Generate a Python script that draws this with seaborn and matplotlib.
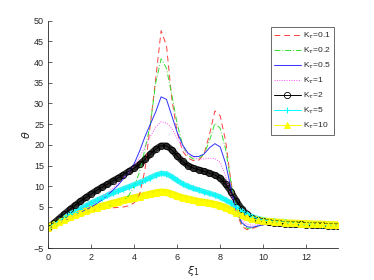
import numpy as np
import pandas as pd
import matplotlib
matplotlib.use('Agg')
import matplotlib.pyplot as plt
import seaborn as sns

# x grid (step 0.25)
xi = [0, .25, .5, .75, 1, 1.25, 1.5, 1.75, 2, 2.25, 2.5, 2.75, 3, 3.25, 3.5, 3.75,
      4, 4.25, 4.5, 4.75, 5, 5.25, 5.5, 5.75, 6, 6.25, 6.5, 6.75, 7, 7.25, 7.5, 7.75,
      8, 8.25, 8.5, 8.75, 9, 9.25, 9.5, 9.75, 10, 10.25, 10.5, 10.75, 11, 11.25, 11.5,
      11.75, 12, 12.25, 12.5, 12.75, 13, 13.25, 13.5]

k01 = [0, .6, 1.2, 1.8, 2.3, 2.8, 3.3, 3.7, 4.0, 4.3, 4.5, 4.7, 4.8, 4.9, 5.0, 5.3,
       6.0, 8.0, 14, 25, 36, 47.6, 44, 31, 23, 18.5, 16.8, 16.2, 16.3, 17.8, 22.5, 28.2,
       27, 21, 11, 4, .3, -.5, -.2, .3, .7, .9, 1.0, 1.0, .9, .9, .8,
       .7, .6, .6, .5, .5, .4, .4, .3]
k02 = [0, .6, 1.2, 1.8, 2.4, 2.9, 3.4, 3.9, 4.3, 4.6, 4.9, 5.2, 5.5, 5.9, 6.5, 7.8,
       10, 13.5, 19, 25, 35, 40.8, 38.5, 32, 25, 20, 17.5, 16.6, 16.7, 17.8, 21, 25.2,
       24, 19, 11, 4.5, 1, -.2, 0, .4, .7, .9, 1.0, 1.0, .9, .9, .8,
       .7, .6, .6, .5, .5, .4, .4, .3]
k05 = [0, .6, 1.2, 1.8, 2.4, 3.0, 3.6, 4.3, 5.0, 5.8, 6.7, 7.8, 9.0, 10.3, 11.8, 13.5,
       15.5, 18.5, 22, 25, 28, 31.6, 31.0, 27, 23, 20, 18, 17.2, 17.2, 17.8, 19.3, 20.3,
       19.5, 15.5, 9.5, 4, 1.2, .2, .1, .4, .7, .9, 1.0, 1.0, .9, .9, .8,
       .7, .6, .6, .5, .5, .4, .4, .3]
k1 = [0, .7, 1.4, 2.1, 2.8, 3.5, 4.2, 4.9, 5.7, 6.5, 7.4, 8.4, 9.5, 10.7, 12, 13.5,
      15, 17, 19.5, 22, 24.3, 25.6, 25.3, 24, 21.5, 19.3, 17.8, 17, 16.6, 16.6, 16.8, 16.7,
      15.8, 12.5, 8, 4, 1.8, .8, .6, .7, .8, .9, 1.0, 1.0, .9, .9, .8,
      .7, .6, .6, .5, .5, .4, .4, .3]
k2 = [0, 1.1, 2.2, 3.3, 4.4, 5.4, 6.4, 7.3, 8.2, 9.0, 9.8, 10.5, 11.3, 12.0, 12.8, 13.6,
      14.4, 15.3, 16.5, 17.8, 19.0, 19.8, 19.8, 18.8, 17.3, 16.0, 15.0, 14.4, 14.0, 13.6, 13.2, 12.7,
      12.0, 10.5, 8.7, 6.5, 4.5, 3.2, 2.3, 1.8, 1.5, 1.3, 1.2, 1.1, 1.0, .9, .85,
      .8, .7, .65, .6, .55, .5, .45, .4]
k5 = [0, .8, 1.6, 2.4, 3.2, 3.9, 4.6, 5.3, 6.0, 6.6, 7.2, 7.8, 8.4, 8.9, 9.4, 9.9,
      10.4, 10.9, 11.5, 12.1, 12.7, 13.1, 13.0, 12.3, 11.4, 10.6, 10.0, 9.5, 9.1, 8.7, 8.3, 7.9,
      7.4, 6.7, 6.0, 5.0, 4.0, 3.2, 2.6, 2.2, 1.9, 1.7, 1.5, 1.4, 1.3, 1.2, 1.1,
      1.0, .95, .9, .8, .75, .7, .65, .6]
k10 = [0, .7, 1.3, 1.9, 2.5, 3.0, 3.5, 4.0, 4.4, 4.8, 5.2, 5.5, 5.9, 6.2, 6.6, 6.9,
       7.2, 7.5, 7.8, 8.1, 8.4, 8.6, 8.5, 8.1, 7.6, 7.2, 6.9, 6.6, 6.3, 6.1, 5.9, 5.6,
       5.3, 4.8, 4.2, 3.6, 3.0, 2.5, 2.1, 1.8, 1.6, 1.5, 1.4, 1.3, 1.2, 1.1, 1.05,
       1.0, .95, .9, .85, .8, .75, .7, .65]

labels = ['0.1', '0.2', '0.5', '1', '2', '5', '10']

sns.set_style('ticks')
plt.rcParams['font.family'] = ['Liberation Sans', 'DejaVu Sans']
plt.rcParams['mathtext.fontset'] = 'dejavusans'

fig = plt.figure(figsize=(3.74, 2.8), dpi=100)
ax = fig.add_axes([0.129, 0.113, 0.776, 0.813])

styles = [
    dict(color='#ff4040', linestyle=(0, (6, 4)), lw=0.7),
    dict(color='#30e030', linestyle=(0, (6, 2, 1, 2)), lw=0.7),
    dict(color='#3030ff', linestyle='-', lw=0.7),
    dict(color='#ff50ff', linestyle=(0, (1, 1.5)), lw=0.7),
    dict(color='black', linestyle='-', lw=0.7, marker='o', markersize=4.5,
         markerfacecolor='none', markeredgecolor='black', markeredgewidth=0.6),
    dict(color='cyan', linestyle='-', lw=0.7, marker='+', markersize=5,
         markeredgecolor='cyan', markeredgewidth=0.8),
    dict(color='yellow', linestyle='-', lw=0.7, marker='^', markersize=5,
         markerfacecolor='yellow', markeredgecolor='yellow', markeredgewidth=0.6),
]
# the marker-heavy series read as thick bands in the original
bands = {'2': ('#2a2a2a', 4.6), '5': ('#40f0f0', 3.8), '10': ('#f5f500', 5.2)}

series = [k01, k02, k05, k1, k2, k5, k10]
for ys, lab in zip(series, labels):
    if lab in bands:
        c, w = bands[lab]
        sns.lineplot(x=xi, y=ys, ax=ax, estimator=None, sort=False,
                     color=c, lw=w, legend=False, solid_capstyle='round')

for ys, lab, st in zip(series, labels, styles):
    df = pd.DataFrame({'x': xi, 'y': ys})
    sns.lineplot(data=df, x='x', y='y', ax=ax, estimator=None, sort=False,
                 label=r'K$_\tau$=' + lab, **st)

ax.set_xlim(0, 13.5)
ax.set_ylim(-5, 50)
ax.set_xticks(range(0, 13, 2))
ax.set_yticks(range(-5, 51, 5))
ax.tick_params(direction='in', length=3, width=0.5, labelsize=6.5,
               colors='#262626', pad=3)
for s in ['top', 'right']:
    ax.spines[s].set_visible(False)
for s in ['left', 'bottom']:
    ax.spines[s].set_linewidth(0.6)
    ax.spines[s].set_color('#262626')

ax.set_xlabel(r'$\xi_1$', fontsize=8, labelpad=2)
ax.set_ylabel(r'$\theta$', fontsize=8, labelpad=1)

leg = ax.legend(loc='upper right', bbox_to_anchor=(0.985, 0.972), fontsize=6,
                frameon=True, fancybox=False, edgecolor='#262626',
                handlelength=3.2, handletextpad=0.3, labelspacing=0.55,
                borderpad=0.4, borderaxespad=0)
leg.get_frame().set_linewidth(0.6)

fig.savefig('out.png', dpi=100)
